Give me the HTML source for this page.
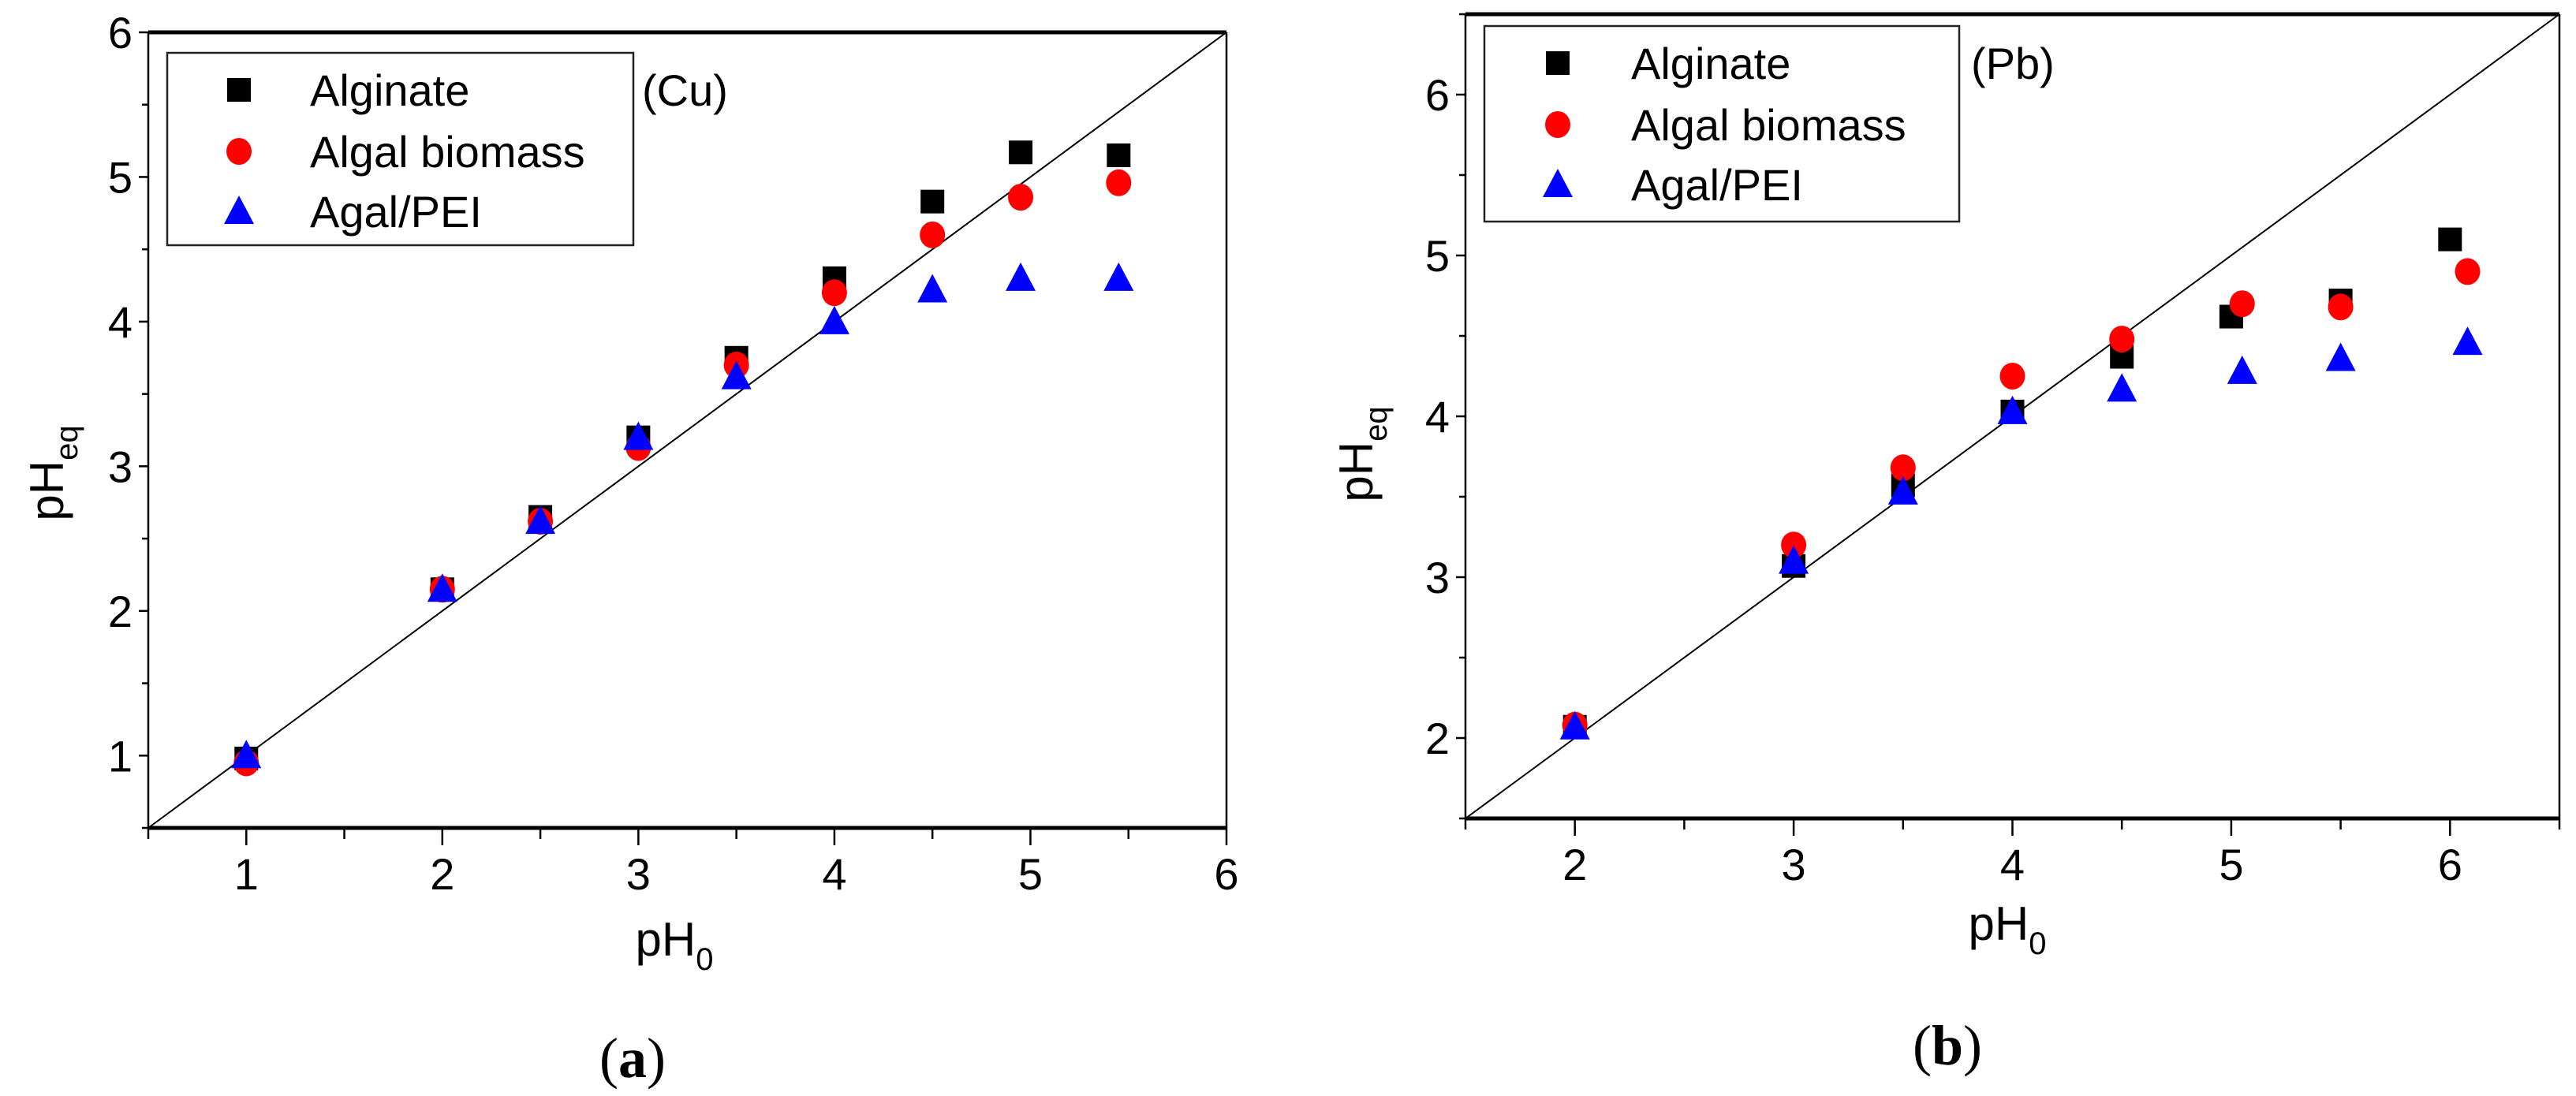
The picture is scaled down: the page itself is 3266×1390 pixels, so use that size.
<!DOCTYPE html>
<html><head><meta charset="utf-8">
<style>
html,body{margin:0;padding:0;background:#fff;}
svg{display:block;font-family:"Liberation Sans",Arial,sans-serif;}
</style></head>
<body>
<svg id="fig" width="3266" height="1390" viewBox="0 0 3266 1390" xmlns="http://www.w3.org/2000/svg">
<rect x="0" y="0" width="3266" height="1390" fill="#fff"/>
</svg>
<script>
// ---- Panel (a) Cu data ----
const cuAlgX = [1, 2, 2.5, 3, 3.5, 4, 4.5, 4.95, 5.45];
const cuAlgY = [0.98, 2.15, 2.65, 3.2, 3.75, 4.3, 4.83, 5.17, 5.15];
const cuBioX = [1, 2, 2.5, 3, 3.5, 4, 4.5, 4.95, 5.45];
const cuBioY = [0.95, 2.15, 2.62, 3.13, 3.7, 4.2, 4.6, 4.86, 4.96];
const cuPeiX = [1, 2, 2.5, 3, 3.5, 4, 4.5, 4.95, 5.45];
const cuPeiY = [1.0, 2.15, 2.62, 3.2, 3.62, 4.0, 4.22, 4.3, 4.3];
const cuXTicks = [1, 2, 3, 4, 5, 6];
const cuYTicks = [1, 2, 3, 4, 5, 6];
// ---- Panel (b) Pb data ----
const pbAlgX = [2, 3, 3.5, 4, 4.5, 5, 5.5, 6];
const pbAlgY = [2.07, 3.07, 3.57, 4.03, 4.37, 4.62, 4.72, 5.1];
const pbBioX = [2, 3, 3.5, 4, 4.5, 5.05, 5.5, 6.08];
const pbBioY = [2.08, 3.2, 3.68, 4.25, 4.48, 4.7, 4.68, 4.9];
const pbPeiX = [2, 3, 3.5, 4, 4.5, 5.05, 5.5, 6.08];
const pbPeiY = [2.07, 3.1, 3.53, 4.03, 4.17, 4.28, 4.36, 4.46];
const pbXTicks = [2, 3, 4, 5, 6];
const pbYTicks = [2, 3, 4, 5, 6];
const seriesNames = ["Alginate", "Algal biomass", "Agal/PEI"];

const NS = "http://www.w3.org/2000/svg";
const svg = document.getElementById("fig");
function mk(tag, attrs, parent) {
  const e = document.createElementNS(NS, tag);
  for (const k in attrs) e.setAttribute(k, attrs[k]);
  (parent || svg).appendChild(e);
  return e;
}

function marker(g, type, cx, cy) {
  let e;
  if (type === 0) {
    e = mk("rect", {x: cx - 15, y: cy - 15, width: 30, height: 30, fill: "#000"}, g);
    
  } else if (type === 1) {
    e = mk("ellipse", {cx: cx, cy: cy, rx: 16, ry: 17, fill: "#ff0000"}, g);
    
  } else {
    e = mk("polygon", {points: `${cx},${cy - 20} ${cx - 19},${cy + 16} ${cx + 19},${cy + 16}`, fill: "#0000ff"}, g);
    
  }
  
  return e;
}

function panel(o) {
  const g = mk("g", {});
  
  
  const sx = v => o.L + (v - o.x0) / (o.x1 - o.x0) * (o.R - o.L);
  const sy = v => o.B - (v - o.y0) / (o.y1 - o.y0) * (o.B - o.T);
  const d = mk("line", {x1: sx(Math.max(o.x0, o.y0)), y1: sy(Math.max(o.x0, o.y0)), x2: sx(Math.min(o.x1, o.y1)), y2: sy(Math.min(o.x1, o.y1)), stroke: "#000", "stroke-width": 2}, g);
  
  
  const lf = mk("line", {x1: o.L, y1: o.T, x2: o.L, y2: o.B, stroke: "#000", "stroke-width": 2.5}, g);
  
  
  mk("line", {x1: o.R, y1: o.T, x2: o.R, y2: o.B, stroke: "#000", "stroke-width": 2.5}, g);
  mk("line", {x1: o.L, y1: o.T, x2: o.R, y2: o.T, stroke: "#000", "stroke-width": 5}, g);
  const bx = mk("line", {x1: o.L, y1: o.B, x2: o.R, y2: o.B, stroke: "#000", "stroke-width": 5}, g);
  
  
  for (let v = Math.ceil(o.x0 * 2) / 2; v <= o.x1 + 1e-6; v += 0.5) {
    const major = Math.abs(v - Math.round(v)) < 1e-6;
    mk("line", {x1: sx(v), y1: o.B, x2: sx(v), y2: o.B + (major ? 22 : 14), stroke: "#000", "stroke-width": 2.5}, g);
  }
  o.xt.forEach(v => {
    const t = mk("text", {x: sx(v), y: o.B + 78, "font-size": 56, "text-anchor": "middle"}, g);
    t.textContent = v;
    
    
  });
  for (let v = Math.ceil(o.y0 * 2) / 2; v <= o.y1 + 1e-6; v += 0.5) {
    const major = Math.abs(v - Math.round(v)) < 1e-6;
    mk("line", {x1: o.L, y1: sy(v), x2: o.L - (major ? 12 : 8), y2: sy(v), stroke: "#000", "stroke-width": 2.5}, g);
  }
  o.yt.forEach(v => {
    const t = mk("text", {x: o.L - 20, y: sy(v) + 20, "font-size": 56, "text-anchor": "end"}, g);
    t.textContent = v;
    
    
  });
  const xt = mk("text", {x: o.xtX, y: o.xtY, "font-size": 60, "text-anchor": "middle"}, g);
  xt.innerHTML = 'pH<tspan font-size="40" dy="18">0</tspan>';
  
  
  const yt = mk("text", {x: 0, y: 0, "font-size": 60, "text-anchor": "middle", transform: `translate(${o.ytX},${o.ytY}) rotate(-90)`}, g);
  yt.innerHTML = 'pH<tspan font-size="40" dy="18">eq</tspan>';
  
  
  o.series.forEach((s, i) => {
    const sg = mk("g", {}, g);
    
    
    s[0].forEach((xv, j) => marker(sg, i, sx(xv), sy(s[1][j])));
  });
  const lg = mk("g", {}, g);
  
  
  mk("rect", {x: o.lg[0], y: o.lg[1], width: o.lg[2], height: o.lg[3], fill: "#fff", stroke: "#222", "stroke-width": 2.5}, lg);
  seriesNames.forEach((n, i) => {
    const ey = o.lgRows[i];
    marker(lg, i, o.lgMx, ey);
    const t = mk("text", {x: o.lgTx, y: ey + 20, "font-size": 56}, lg);
    t.textContent = n;
    
    
  });
  const tag = mk("text", {x: o.tagX, y: o.tagY, "font-size": 56}, g);
  tag.textContent = o.tag;
  
  
  const cap = mk("text", {x: o.capX, y: o.capY, "font-size": 72, "text-anchor": "middle", "font-family": "Liberation Serif, serif"}, g);
  cap.innerHTML = '(<tspan font-weight="bold">' + o.cap + '</tspan>)';
  
  
}

panel({name: "panel-a-cu", L: 188, R: 1555, T: 41, B: 1050, x0: 0.5, x1: 6, y0: 0.5, y1: 6,
  xt: cuXTicks, yt: cuYTicks,
  series: [[cuAlgX, cuAlgY], [cuBioX, cuBioY], [cuPeiX, cuPeiY]],
  xtX: 855, xtY: 1212, ytX: 80, ytY: 600,
  lg: [212, 67, 591, 244], lgRows: [114, 192, 268], lgMx: 303, lgTx: 393,
  tag: "(Cu)", tagX: 814, tagY: 134, cap: "a", capX: 802, capY: 1366});

panel({name: "panel-b-pb", L: 1858, R: 3245, T: 18, B: 1038, x0: 1.5, x1: 6.5, y0: 1.5, y1: 6.5,
  xt: pbXTicks, yt: pbYTicks,
  series: [[pbAlgX, pbAlgY], [pbBioX, pbBioY], [pbPeiX, pbPeiY]],
  xtX: 2545, xtY: 1192, ytX: 1740, ytY: 576,
  lg: [1882, 33, 602, 248], lgRows: [80, 158, 234], lgMx: 1975, lgTx: 2068,
  tag: "(Pb)", tagX: 2499, tagY: 100, cap: "b", capX: 2469, capY: 1350});
</script>
</body></html>
